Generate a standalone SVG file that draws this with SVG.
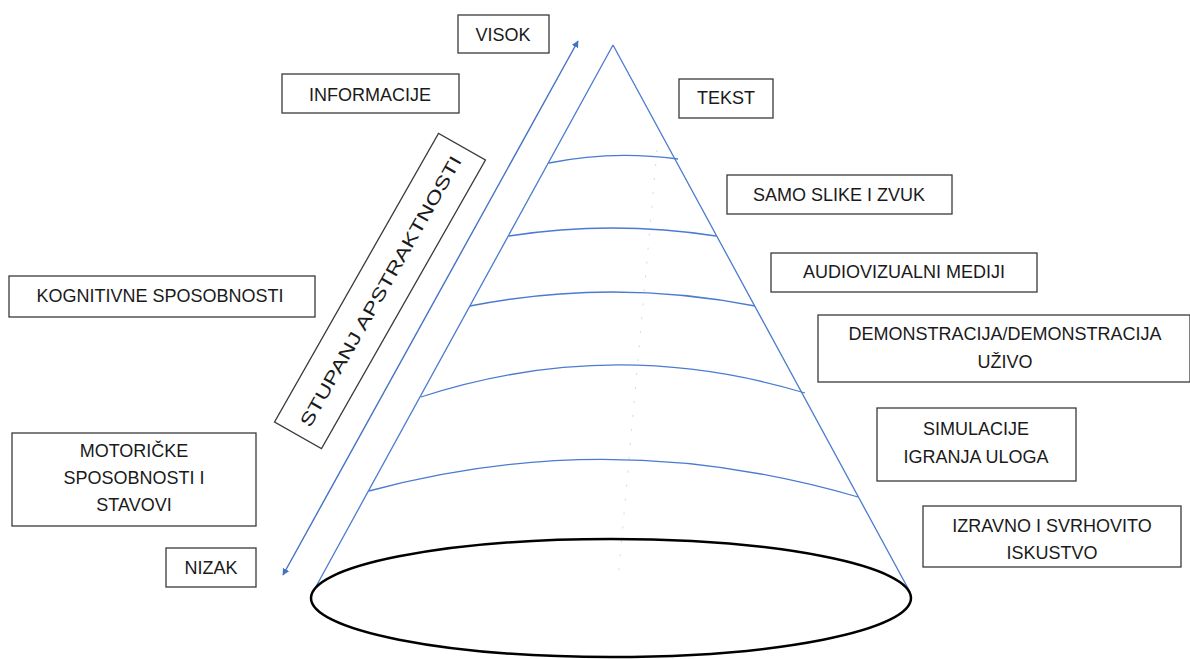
<svg xmlns="http://www.w3.org/2000/svg" width="1190" height="659" viewBox="0 0 1190 659">
<style>
.box{fill:#fff;stroke:#3a3a3a;stroke-width:1.3}
.lbl{font-family:"Liberation Sans",Arial,sans-serif;font-size:18px;fill:#1a1a1a;text-anchor:middle;dominant-baseline:central}
.cone{fill:none;stroke:#4a7bd0;stroke-width:1.3}
.axis{fill:none;stroke:#4472c4;stroke-width:1.4}
</style>
<defs>
<marker id="ah" viewBox="0 0 10 10" refX="9" refY="5" markerWidth="7" markerHeight="7" orient="auto-start-reverse" markerUnits="userSpaceOnUse">
<path d="M0,0 L10,5 L0,10 z" fill="#4472c4"/>
</marker>
</defs>
<rect width="1190" height="659" fill="#fff"/>
<g id="cone">
<line class="cone" x1="613" y1="45" x2="313" y2="592"/>
<line class="cone" x1="613" y1="45" x2="910" y2="592"/>
<path class="cone" d="M549,163 Q612,150 678,159"/>
<path class="cone" d="M509,236 Q612,220 716,236"/>
<path class="cone" d="M470,306 Q612,278 755,306"/>
<path class="cone" d="M421,397 Q612,335 805,393"/>
<path class="cone" d="M369,491 Q612,425 858,497"/>
<line x1="657" y1="150" x2="618" y2="580" stroke="#a9c1ea" stroke-width="1" stroke-dasharray="2,12" opacity="0.6"/>
<ellipse cx="611" cy="598" rx="300" ry="59" fill="none" stroke="#000" stroke-width="2.5"/>
</g>
<g id="connectors">
<line class="axis" x1="283" y1="575" x2="578" y2="41" marker-start="url(#ah)" marker-end="url(#ah)"/>
</g>
<g id="stupanj" transform="translate(380,291) rotate(-60.4)">
<rect class="box" x="-166" y="-27" width="332" height="54"/>
<text class="lbl" x="0" y="1" font-size="24" textLength="308" lengthAdjust="spacingAndGlyphs">STUPANJ APSTRAKTNOSTI</text>
</g>
<g id="visok"><rect class="box" x="458" y="15" width="91" height="38"/><text class="lbl" x="503" y="35">VISOK</text></g>
<g id="informacije"><rect class="box" x="282" y="74" width="177" height="39"/><text class="lbl" x="370" y="95">INFORMACIJE</text></g>
<g id="tekst"><rect class="box" x="679" y="79" width="94" height="39"/><text class="lbl" x="726" y="98">TEKST</text></g>
<g id="samo"><rect class="box" x="727" y="175" width="225" height="39"/><text class="lbl" x="839" y="195">SAMO SLIKE I ZVUK</text></g>
<g id="audio"><rect class="box" x="771" y="253" width="266" height="39"/><text class="lbl" x="904" y="272">AUDIOVIZUALNI MEDIJI</text></g>
<g id="demo"><rect class="box" x="818" y="315" width="372" height="67"/><text class="lbl" x="1005" y="334">DEMONSTRACIJA/DEMONSTRACIJA</text><text class="lbl" x="1005" y="362">UŽIVO</text></g>
<g id="simulacije"><rect class="box" x="877" y="408" width="199" height="73"/><text class="lbl" x="976" y="429">SIMULACIJE</text><text class="lbl" x="976" y="457">IGRANJA ULOGA</text></g>
<g id="izravno"><rect class="box" x="923" y="506" width="258" height="61"/><text class="lbl" x="1052" y="526">IZRAVNO I SVRHOVITO</text><text class="lbl" x="1052" y="553">ISKUSTVO</text></g>
<g id="kognitivne"><rect class="box" x="9" y="276" width="306" height="41"/><text class="lbl" x="160" y="296">KOGNITIVNE SPOSOBNOSTI</text></g>
<g id="motoricke"><rect class="box" x="12" y="433" width="244" height="93"/><text class="lbl" x="134" y="451">MOTORIČKE</text><text class="lbl" x="134" y="478">SPOSOBNOSTI I</text><text class="lbl" x="134" y="505">STAVOVI</text></g>
<g id="nizak"><rect class="box" x="166" y="548" width="90" height="39"/><text class="lbl" x="211" y="568">NIZAK</text></g>
</svg>
